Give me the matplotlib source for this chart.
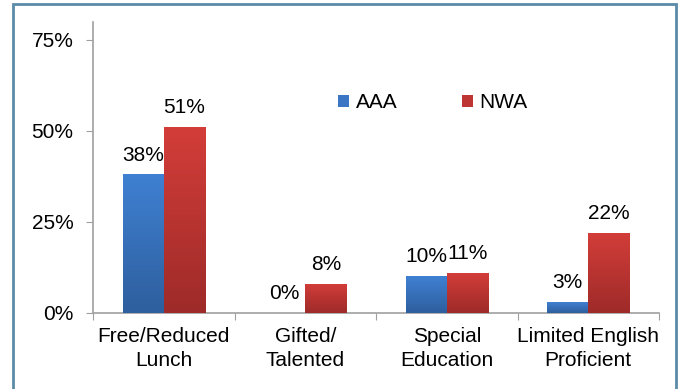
import numpy as np
import matplotlib
matplotlib.use('Agg')
import matplotlib.pyplot as plt
from matplotlib.colors import LinearSegmentedColormap
from matplotlib.patches import Rectangle, Patch

categories = ["Free/Reduced\nLunch", "Gifted/\nTalented", "Special\nEducation", "Limited English\nProficient"]
aaa = [0.38, 0.00, 0.10, 0.03]
nwa = [0.51, 0.08, 0.11, 0.22]
aaa_labels = ["38%", "0%", "10%", "3%"]
nwa_labels = ["51%", "8%", "11%", "22%"]
yticks = [0, 0.25, 0.5, 0.75]
ytick_labels = ["0%", "25%", "50%", "75%"]

plt.rcParams['font.family'] = ['Liberation Sans', 'DejaVu Sans']
fs = 15

fig = plt.figure(figsize=(6.8, 3.89), dpi=100)
ax = fig.add_axes([0.1368, 0.1961, 0.8324, 0.7486])

# outer frame (bottom edge runs off the picture)
fig.patches.append(Rectangle((13 / 680, -0.05), (676 - 13) / 680, 1.05 - 4 / 389,
                             transform=fig.transFigure, fill=False,
                             edgecolor='#5B8BA8', linewidth=2))

x = np.arange(len(categories))
w = 0.29
b1 = ax.bar(x - w / 2, aaa, w, color='#3A76C4', zorder=2)
b2 = ax.bar(x + w / 2, nwa, w, color='#BE3633', zorder=2)

# vertical gradient like the original
cmaps = [LinearSegmentedColormap.from_list('b', ['#2E5F9E', '#3F80D2']),
         LinearSegmentedColormap.from_list('r', ['#9E2B29', '#D33D39'])]
grad = np.linspace(0, 1, 64).reshape(-1, 1)
for bars, cm in zip([b1, b2], cmaps):
    for p in bars:
        if p.get_height() <= 0:
            continue
        im = ax.imshow(grad, cmap=cm, origin='lower', aspect='auto', zorder=3,
                       extent=(p.get_x(), p.get_x() + p.get_width(), 0, p.get_height()))
        im.set_clip_path(p)

for bars, labs in [(b1, aaa_labels), (b2, nwa_labels)]:
    for p, t in zip(bars, labs):
        ax.annotate(t, (p.get_x() + p.get_width() / 2, p.get_height()),
                    xytext=(0, 10), textcoords='offset points',
                    ha='center', va='baseline', fontsize=fs)

ax.set_xlim(-0.5, 3.5)
ax.set_ylim(0, 0.8)
ax.set_yticks(yticks)
ax.set_yticklabels(ytick_labels)
ax.set_xticks(np.arange(-0.5, 4, 1))
ax.set_xticklabels([])
ax.set_xticks(x, minor=True)
ax.set_xticklabels(categories, minor=True, fontsize=fs, linespacing=1.35)
ax.tick_params(axis='x', which='minor', length=0, pad=10)
ax.tick_params(axis='x', which='major', length=5, color='#A0A0A0')
ax.tick_params(axis='y', length=5, color='#A0A0A0', labelsize=fs, pad=9)

for s in ['top', 'right']:
    ax.spines[s].set_visible(False)
for s in ['left', 'bottom']:
    ax.spines[s].set_color('#A0A0A0')
    ax.spines[s].set_linewidth(1.2)

handles = [Patch(facecolor='#3A76C4', label='AAA'),
           Patch(facecolor='#BE3633', label='NWA')]
fig.legend(handles=handles, loc='center left', bbox_to_anchor=(338 / 680, 1 - 103 / 389),
           ncol=2, frameon=False, fontsize=fs, handlelength=0.55, handleheight=0.55,
           handletextpad=0.3, columnspacing=3.1, borderaxespad=0, borderpad=0)

plt.savefig('out.png', dpi=100)
